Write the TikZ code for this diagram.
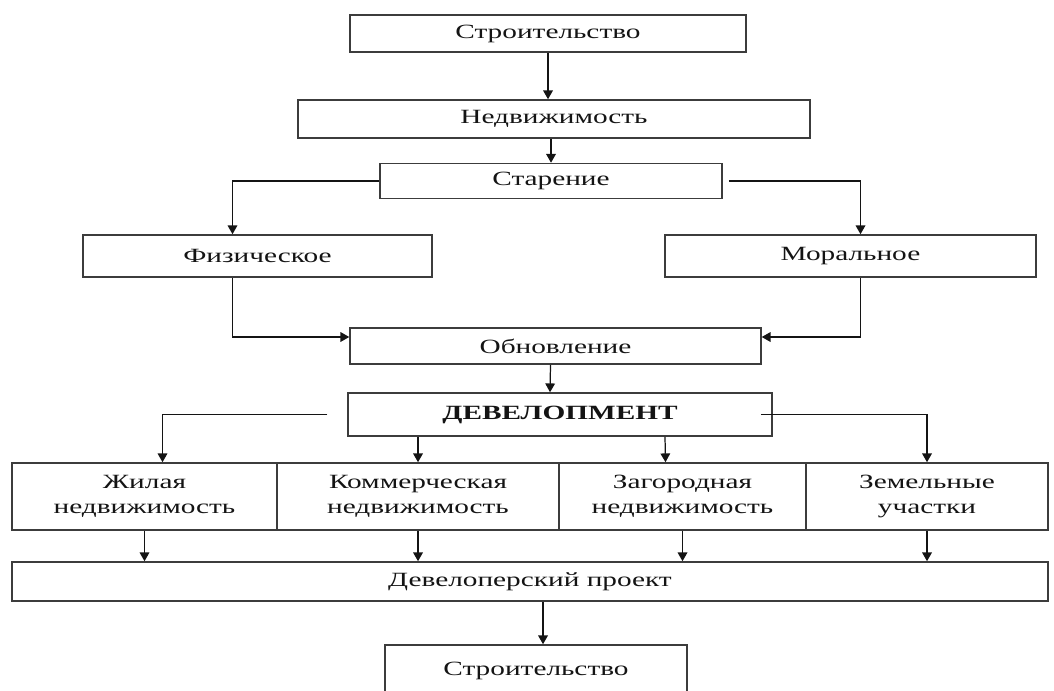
\documentclass[tikz,border=0pt]{standalone}
\usepackage{fontspec}
\setmainfont{Liberation Serif}[FakeStretch=1.45]
\usepackage{tikz}
\usetikzlibrary{arrows.meta, positioning, calc}
\definecolor{boxline}{RGB}{60,60,60}
\definecolor{mydark}{RGB}{20,20,20}
\tikzset{
  block/.style={rectangle,draw=boxline,fill=white,align=center,inner sep=0pt,
    font=\fontsize{11.5}{14}\selectfont,text=mydark,line width=0.9pt},
  arrow/.style={-{Triangle[length=5pt,width=5.5pt]},line width=0.7pt,color=mydark},
  line/.style={line width=0.7pt,color=mydark}
}
\begin{document}
\begin{tikzpicture}[x=0.02cm,y=-0.02cm]
  \useasboundingbox (0,0) rectangle (1054,690);
  \clip (0,0) rectangle (1054,690);
  \node[block, minimum width=7.92cm,  minimum height=0.74cm] (str)  at (548,33.5)  {Строительство};
  \node[block, minimum width=10.24cm, minimum height=0.76cm] (ned)  at (554,119)   {Недвижимость};
  \node[block, minimum width=6.84cm,  minimum height=0.70cm] (star) at (551,181)   {Старение};
  \node[block, minimum width=6.98cm,  minimum height=0.84cm] (fiz)  at (257.5,256) {Физическое};
  \node[block, minimum width=7.42cm,  minimum height=0.84cm] (mor)  at (850.5,256) {Моральное};
  \node[block, minimum width=8.22cm,  minimum height=0.72cm] (obn)  at (555.5,346) {Обновление};
  \node[block, minimum width=8.48cm,  minimum height=0.86cm] (dev)  at (560,414.5) {\bfseries ДЕВЕЛОПМЕНТ};
  \node[block, minimum width=5.30cm,  minimum height=1.34cm] (zhil) at (144.5,496.5) {Жилая\\недвижимость};
  \node[block, minimum width=5.64cm,  minimum height=1.34cm] (komm) at (418,496.5)   {Коммерческая\\недвижимость};
  \node[block, minimum width=4.94cm,  minimum height=1.34cm] (zag)  at (682.5,496.5) {Загородная\\недвижимость};
  \node[block, minimum width=4.84cm,  minimum height=1.34cm] (zem)  at (927,496.5)   {Земельные\\участки};
  \node[block, minimum width=20.72cm, minimum height=0.78cm] (proj) at (530,581.5)   {Девелоперский проект};
  \node[block, minimum width=6.04cm,  minimum height=1.02cm] (str2) at (536,670.5)   {Строительство};

  \draw[arrow] (str.south) -- (str.south |- ned.north);
  \draw[arrow] (star.north |- ned.south) -- (star.north);
  \draw[arrow] (star.west) -| ($(fiz.north)+(-25,0)$);
  \draw[arrow] ($(star.east)+(6,0)$) -| ($(mor.north)+(10,0)$);
  \draw[arrow] ($(fiz.south)+(-25,0)$) |- ($(obn.west)+(0,-9)$);
  \draw[arrow] ($(mor.south)+(10,0)$) |- ($(obn.east)+(0,-9)$);
  \draw[arrow] ($(obn.south)+(-5,0)$) -- ($(dev.north)+(-10,0)$);
  \draw[arrow] ($(dev.west)+(-20,0)$) -| ($(zhil.north)+(18,0)$);
  \draw[arrow] ($(dev.east)+(-12,0)$) -| (zem.north);
  \draw[arrow] (komm.north |- dev.south) -- (komm.north);
  \draw[arrow] ($(dev.south)+(105,0)$) -- ($(zag.north)+(-17,0)$);
  \foreach \n in {zhil,komm,zag,zem}
    \draw[arrow] (\n.south) -- (\n.south |- proj.north);
  \draw[arrow] ($(proj.south)+(13,0)$) -- ($(str2.north)+(7,0)$);
\end{tikzpicture}
\end{document}
